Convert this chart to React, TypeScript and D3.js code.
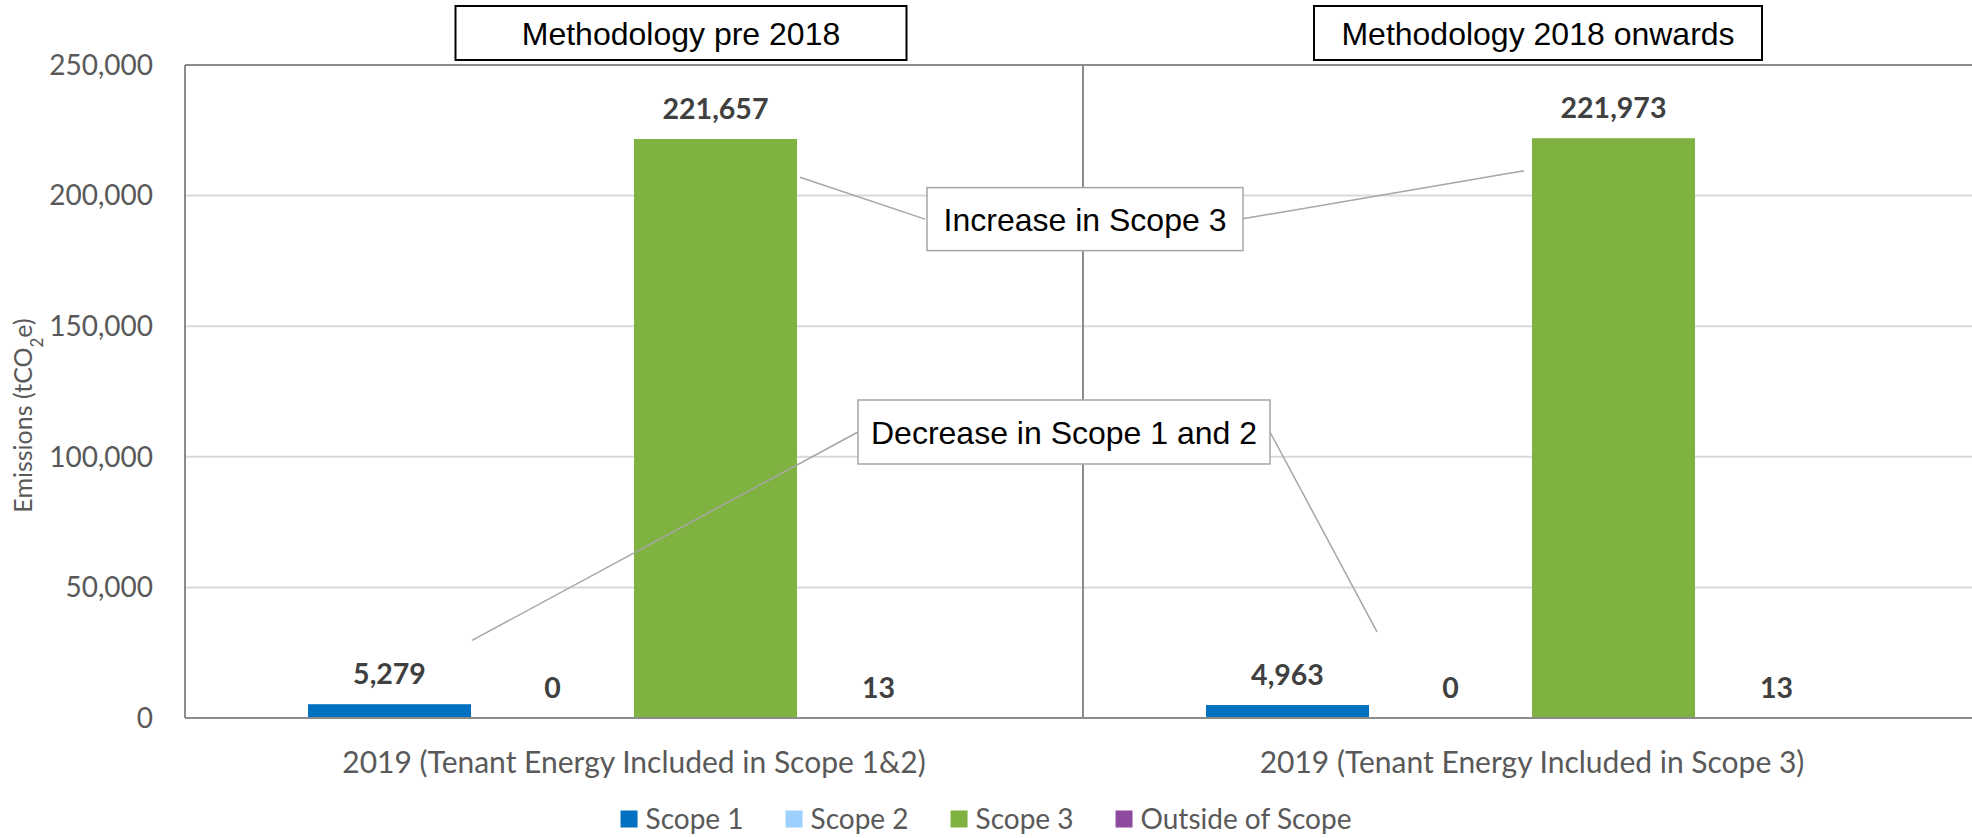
import { useEffect, useRef } from "react";
import * as d3 from "d3";

// chart data
const categories = [
  "2019 (Tenant Energy Included in Scope 1&2)",
  "2019 (Tenant Energy Included in Scope 3)",
];
const seriesNames = ["Scope 1", "Scope 2", "Scope 3", "Outside of Scope"];
const seriesColors = ["#0070c0", "#9dcfff", "#7fb241", "#8e4a9e"];
const scope1 = [5279, 4963];
const scope2 = [0, 0];
const scope3 = [221657, 221973];
const outsideScope = [13, 13];
const yTicks = [0, 50000, 100000, 150000, 200000, 250000];
const methodologyLabels = ["Methodology pre 2018", "Methodology 2018 onwards"];

const FONT = "Lato, 'Open Sans', sans-serif";
const ARIAL = "'Liberation Sans', Arial, sans-serif";

export default function App() {
  const svgRef = useRef<SVGSVGElement>(null);

  useEffect(() => {
    const el = svgRef.current;
    if (!el) return;
    const root = d3.select(el);
    root.selectAll("*").remove();

    const W = 1972;
    const H = 838;
    const m = { left: 185, right: -9, top: 65, bottom: 120 };
    const x0 = m.left;
    const x1 = W - m.right;
    const yTop = m.top;
    const yBot = H - m.bottom;

    const xs = d3
      .scaleBand<string>()
      .domain(categories)
      .range([x0, x1])
      .paddingInner(0.274)
      .paddingOuter(0.137);
    const xSub = d3
      .scaleBand<string>()
      .domain(seriesNames)
      .range([0, xs.bandwidth()]);
    const ys = d3.scaleLinear().domain([0, 250000]).range([yBot, yTop]);

    const values = [scope1, scope2, scope3, outsideScope];
    const rows = categories.flatMap((c, ci) =>
      seriesNames.map((s, si) => ({ c, s, si, v: values[si][ci] }))
    );

    // grid
    root
      .append("g")
      .selectAll("line")
      .data(yTicks.filter((t) => t > 0 && t < 250000))
      .enter()
      .append("line")
      .attr("x1", x0)
      .attr("x2", x1)
      .attr("y1", (d) => ys(d))
      .attr("y2", (d) => ys(d))
      .attr("stroke", "#d9d9d9")
      .attr("stroke-width", 2);

    // plot frame + divider
    const frame = "#8c8c8c";
    root
      .append("line")
      .attr("x1", x0).attr("x2", x1)
      .attr("y1", ys(250000)).attr("y2", ys(250000))
      .attr("stroke", frame).attr("stroke-width", 2);
    root
      .append("line")
      .attr("x1", x0).attr("x2", x0)
      .attr("y1", yTop).attr("y2", yBot)
      .attr("stroke", frame).attr("stroke-width", 2);
    const divX = (xs(categories[1]) as number) - (xs.step() - xs.bandwidth()) / 2;
    root
      .append("line")
      .attr("x1", divX).attr("x2", divX)
      .attr("y1", yTop).attr("y2", yBot)
      .attr("stroke", frame).attr("stroke-width", 2);

    // bars
    root
      .append("g")
      .selectAll("rect")
      .data(rows)
      .enter()
      .append("rect")
      .attr("x", (d) => (xs(d.c) as number) + (xSub(d.s) as number))
      .attr("y", (d) => ys(d.v))
      .attr("width", xSub.bandwidth())
      .attr("height", (d) => yBot - ys(d.v))
      .attr("fill", (d) => seriesColors[d.si]);

    root
      .append("line")
      .attr("x1", x0).attr("x2", x1)
      .attr("y1", yBot).attr("y2", yBot)
      .attr("stroke", frame).attr("stroke-width", 2);

    // data labels
    root
      .append("g")
      .selectAll("text")
      .data(rows)
      .enter()
      .append("text")
      .attr("x", (d) => (xs(d.c) as number) + (xSub(d.s) as number) + xSub.bandwidth() / 2)
      .attr("y", (d) => ys(d.v) - 20)
      .attr("text-anchor", "middle")
      .attr("fill", "#404040")
      .style("font-family", FONT)
      .style("font-weight", 700)
      .style("font-size", "28.5px")
      .text((d) => d3.format(",")(d.v));

    // y tick labels
    root
      .append("g")
      .selectAll("text")
      .data(yTicks)
      .enter()
      .append("text")
      .attr("x", 153)
      .attr("y", (d) => ys(d))
      .attr("dy", "0.35em")
      .attr("text-anchor", "end")
      .attr("fill", "#595959")
      .style("font-family", FONT)
      .style("font-size", "28px")
      .text((d) => d3.format(",")(d));

    // y title
    const yt = root
      .append("text")
      .attr("transform", `translate(23,${(yTop + yBot) / 2 + 24}) rotate(-90)`)
      .attr("text-anchor", "middle")
      .attr("dy", "0.35em")
      .attr("fill", "#595959")
      .style("font-family", FONT)
      .style("font-size", "25px");
    yt.append("tspan").text("Emissions (tCO");
    yt.append("tspan").attr("baseline-shift", "sub").style("font-size", "17px").text("2");
    yt.append("tspan").text("e)");

    // category labels
    root
      .append("g")
      .selectAll("text")
      .data(categories)
      .enter()
      .append("text")
      .attr("x", (d) => (xs(d) as number) + xs.bandwidth() / 2)
      .attr("y", yBot + 44)
      .attr("dy", "0.35em")
      .attr("text-anchor", "middle")
      .attr("fill", "#595959")
      .style("font-family", FONT)
      .style("font-size", "30px")
      .text((d) => d);

    // legend
    const leg = root.append("g");
    let lx = 0;
    seriesNames.forEach((s, i) => {
      const g = leg.append("g").attr("transform", `translate(${lx},0)`);
      g.append("rect")
        .attr("x", 0).attr("y", -8.5)
        .attr("width", 17).attr("height", 17)
        .attr("fill", seriesColors[i]);
      const t = g
        .append("text")
        .attr("x", 25)
        .attr("dy", "0.35em")
        .attr("fill", "#595959")
        .style("font-family", FONT)
        .style("font-size", "28px")
        .text(s);
      const w = (t.node() as SVGTextElement).getComputedTextLength();
      lx += 25 + w + (i < seriesNames.length - 1 ? 42 : 0);
    });
    leg.attr("transform", `translate(${986 - lx / 2},${H - 19})`);

    // annotation boxes
    const box = (
      cx: number,
      cy: number,
      w: number,
      h: number,
      label: string,
      stroke: string,
      sw: number
    ) => {
      root
        .append("rect")
        .attr("x", cx - w / 2)
        .attr("y", cy - h / 2)
        .attr("width", w)
        .attr("height", h)
        .attr("fill", "#fff")
        .attr("stroke", stroke)
        .attr("stroke-width", sw);
      root
        .append("text")
        .attr("x", cx)
        .attr("y", cy)
        .attr("dy", "0.36em")
        .attr("text-anchor", "middle")
        .attr("fill", "#000")
        .style("font-family", ARIAL)
        .style("font-size", "32px")
        .text(label);
    };

    const lead = "#a6a6a6";
    const leader = (ax: number, ay: number, bx: number, by: number) =>
      root
        .append("line")
        .attr("x1", ax).attr("y1", ay)
        .attr("x2", bx).attr("y2", by)
        .attr("stroke", lead)
        .attr("stroke-width", 1.5);

    const bar3a = (xs(categories[0]) as number) + (xSub("Scope 3") as number);
    const bar3b = (xs(categories[1]) as number) + (xSub("Scope 3") as number);
    const bar1a = (xs(categories[0]) as number) + (xSub("Scope 1") as number);
    const bar1b = (xs(categories[1]) as number) + (xSub("Scope 1") as number);

    // increase in scope 3
    const incY = ys(191000);
    leader(bar3a + xSub.bandwidth() + 3, ys(207000), divX - 158, incY);
    leader(divX + 158, incY, bar3b - 8, ys(209500));
    box(divX + 2, incY, 316, 63, "Increase in Scope 3", "#a6a6a6", 1.5);

    // decrease in scope 1 and 2
    const decY = ys(109500);
    leader(divX - 225, decY, bar1a + xSub.bandwidth() + 1, ys(29700));
    leader(divX + 187, decY, bar1b + xSub.bandwidth() + 8, ys(33000));
    box(divX - 19, decY, 412, 64, "Decrease in Scope 1 and 2", "#a6a6a6", 1.5);

    // methodology headers
    box(681, 33, 451, 54, methodologyLabels[0], "#000", 2);
    box(1538, 33, 448, 54, methodologyLabels[1], "#000", 2);
  }, []);

  return (
    <div style={{ position: "absolute", left: 0, top: 0, background: "#fff" }}>
      <svg ref={svgRef} width={1972} height={838} style={{ display: "block" }} />
    </div>
  );
}
